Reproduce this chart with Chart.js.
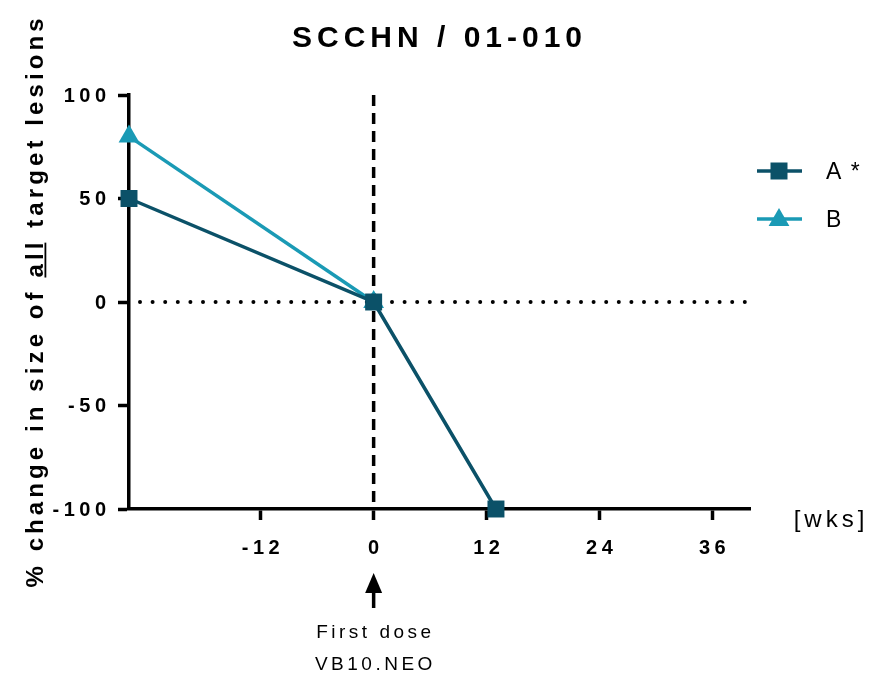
<!DOCTYPE html>
<html><head><meta charset="utf-8">
<script src="https://cdn.jsdelivr.net/npm/chart.js@4/dist/chart.umd.min.js"></script>
<style>html,body{margin:0;padding:0;background:#fff;overflow:hidden}</style>
</head><body>
<canvas id="c" width="881" height="676"></canvas>
<script>
// ---- data ----
const chartTitle = 'SCCHN / 01-010';
const yAxisTitle = '% change in size of all target lesions';
const underlinedWord = 'all';
const xAxisTitle = '[wks]';
const annotationLines = ['First dose', 'VB10.NEO'];
const seriesNames = ['A *', 'B'];
const weeksA = [-26, 0, 13];
const valuesA = [50, 0, -100];
const weeksB = [-26, 0];
const valuesB = [80, 0];
const xTickValues = [-12, 0, 12, 24, 36];
const yTickValues = [-100, -50, 0, 50, 100];
const xRange = [-26, 40];
const yRange = [-100, 100];
const markerWeek = 0;

// ---- style ----
const colA = '#0B5168';
const colB = '#1A9AB5';
const FF = '"Liberation Sans", Arial, sans-serif';

function spaced(ctx, text, x, y, ls, align) {
  const chars = [...text];
  const widths = chars.map(ch => ctx.measureText(ch).width);
  const total = widths.reduce((a, b) => a + b, 0) + ls * (chars.length - 1);
  let sx = align === 'center' ? x - total / 2 : align === 'right' ? x - total : x;
  ctx.textAlign = 'left';
  const starts = [];
  chars.forEach((ch, i) => { starts.push(sx); ctx.fillText(ch, sx, y); sx += widths[i] + ls; });
  return { starts, widths, total };
}

function drawMarker(ctx, style, cx, cy, color) {
  ctx.fillStyle = color;
  ctx.beginPath();
  if (style === 'rect') {
    ctx.rect(cx - 8.5, cy - 8.5, 17, 17);
  } else {
    const r = 12;
    ctx.moveTo(cx, cy - r);
    ctx.lineTo(cx + r * Math.sin(2 * Math.PI / 3), cy - r * Math.cos(2 * Math.PI / 3));
    ctx.lineTo(cx + r * Math.sin(4 * Math.PI / 3), cy - r * Math.cos(4 * Math.PI / 3));
    ctx.closePath();
  }
  ctx.fill();
}

const deco = {
  id: 'deco',
  beforeDatasetsDraw(chart) {
    const { ctx, chartArea: a, scales: { x, y } } = chart;
    ctx.save();
    const y0 = y.getPixelForValue(0);
    ctx.strokeStyle = '#000';
    ctx.lineWidth = 4;
    ctx.lineCap = 'round';
    ctx.setLineDash([0, 12.6]);
    ctx.beginPath(); ctx.moveTo(a.left + 11, y0); ctx.lineTo(a.right, y0); ctx.stroke();
    const x0 = x.getPixelForValue(markerWeek);
    ctx.lineCap = 'butt';
    ctx.lineWidth = 3.5;
    ctx.setLineDash([11, 7]);
    ctx.beginPath(); ctx.moveTo(x0, a.top); ctx.lineTo(x0, a.bottom); ctx.stroke();
    ctx.restore();
  },
  afterDraw(chart) {
    const { ctx, chartArea: a, scales: { x, y } } = chart;
    ctx.save();
    ctx.fillStyle = '#000';
    ctx.textBaseline = 'middle';
    // tick labels
    ctx.font = 'bold 20px ' + FF;
    y.ticks.forEach(t => spaced(ctx, String(t.value), a.left - 23, y.getPixelForValue(t.value) + 1, 4.5, 'right'));
    x.ticks.forEach(t => spaced(ctx, String(t.value), x.getPixelForValue(t.value), a.bottom + 39, 4.5, 'center'));
    // title
    ctx.font = 'bold 30px ' + FF;
    spaced(ctx, chartTitle, 437, 39, 5, 'center');
    // x axis title
    ctx.font = '24px ' + FF;
    spaced(ctx, xAxisTitle, 829, 520, 4, 'center');
    // y axis title
    ctx.save();
    ctx.translate(43, 303);
    ctx.rotate(-Math.PI / 2);
    ctx.font = 'bold 24px ' + FF;
    ctx.textBaseline = 'alphabetic';
    const r = spaced(ctx, yAxisTitle, 0, 0, 4.1, 'center');
    const idx = yAxisTitle.indexOf(' ' + underlinedWord + ' ') + 1;
    const e = idx + underlinedWord.length - 1;
    ctx.fillRect(r.starts[idx], 1.5, r.starts[e] + r.widths[e] - r.starts[idx], 1.8);
    ctx.restore();
    // legend
    const cols = [colA, colB];
    const styles = ['rect', 'triangle'];
    seriesNames.forEach((name, i) => {
      const ly = 171 + i * 48;
      ctx.strokeStyle = cols[i];
      ctx.lineWidth = 3.5;
      ctx.beginPath(); ctx.moveTo(757, ly); ctx.lineTo(802, ly); ctx.stroke();
      drawMarker(ctx, styles[i], 779, ly + (i ? 1 : 0), cols[i]);
      ctx.fillStyle = '#000';
      ctx.font = '23px ' + FF;
      ctx.textBaseline = 'middle';
      spaced(ctx, name, 826, ly + 2, 1.5, 'left');
    });
    // arrow annotation
    const xa = x.getPixelForValue(markerWeek);
    ctx.fillStyle = '#000';
    ctx.beginPath();
    ctx.moveTo(xa, 573); ctx.lineTo(xa + 8.5, 593); ctx.lineTo(xa - 8.5, 593); ctx.closePath(); ctx.fill();
    ctx.fillRect(xa - 1.75, 590, 3.5, 18);
    ctx.font = '19px ' + FF;
    ctx.textBaseline = 'middle';
    spaced(ctx, annotationLines[0], xa, 633, 3.5, 'center');
    spaced(ctx, annotationLines[1], xa, 665, 3.5, 'center');
    ctx.restore();
  }
};

new Chart(document.getElementById('c').getContext('2d'), {
  type: 'line',
  data: {
    datasets: [
      { label: seriesNames[0], data: weeksA.map((w, i) => ({ x: w, y: valuesA[i] })),
        borderColor: colA, backgroundColor: colA, borderWidth: 3.5, pointStyle: 'rect',
        pointRadius: 12, pointHoverRadius: 12, pointBorderWidth: 0, clip: false, tension: 0 },
      { label: seriesNames[1], data: weeksB.map((w, i) => ({ x: w, y: valuesB[i] })),
        borderColor: colB, backgroundColor: colB, borderWidth: 3.5, pointStyle: 'triangle',
        pointRadius: 12, pointHoverRadius: 12, pointBorderWidth: 0, clip: false, tension: 0 }
    ]
  },
  options: {
    responsive: false, animation: false, devicePixelRatio: 1, events: [],
    layout: { padding: { top: 95, right: 131, left: 0, bottom: 0 } },
    plugins: { legend: { display: false }, title: { display: false }, tooltip: { enabled: false } },
    scales: {
      x: { type: 'linear', min: xRange[0], max: xRange[1],
        afterBuildTicks: s => { s.ticks = xTickValues.map(v => ({ value: v })); },
        afterFit: s => { s.height = 167; },
        grid: { drawOnChartArea: false, drawTicks: true, tickLength: 11, tickWidth: 3.5, tickColor: '#000' },
        border: { display: true, color: '#000', width: 3.5 },
        ticks: { display: false } },
      y: { type: 'linear', min: yRange[0], max: yRange[1],
        afterBuildTicks: s => { s.ticks = yTickValues.map(v => ({ value: v })); },
        afterFit: s => { s.width = 129; },
        grid: { drawOnChartArea: false, drawTicks: true, tickLength: 11, tickWidth: 3.5, tickColor: '#000' },
        border: { display: true, color: '#000', width: 3.5 },
        ticks: { display: false } }
    }
  },
  plugins: [deco]
});
</script>
</body></html>
